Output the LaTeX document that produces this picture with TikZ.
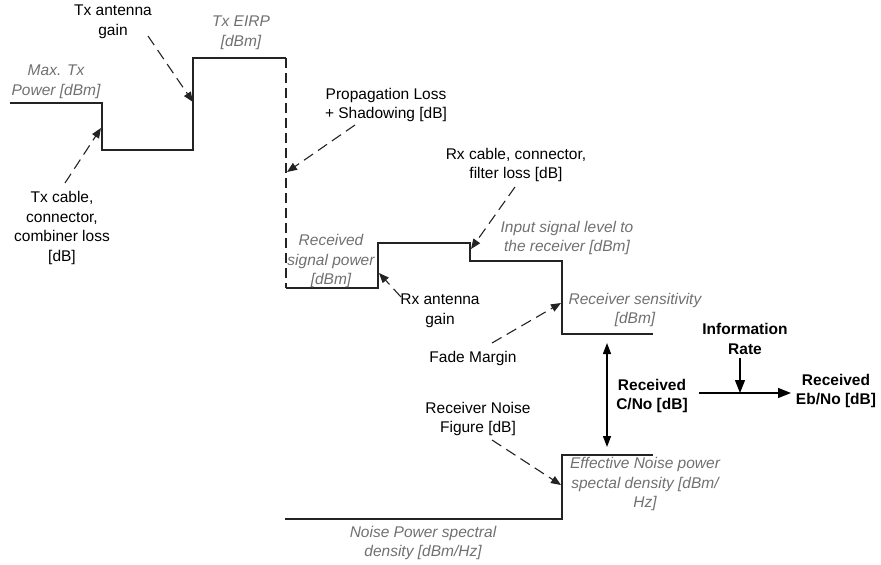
\documentclass[tikz,border=0pt]{standalone}
\usepackage{fontspec}
\setmainfont{Liberation Sans}
\usetikzlibrary{arrows.meta}
\definecolor{lvlgray}{RGB}{112,112,112}
\definecolor{ink}{RGB}{35,35,35}
\begin{document}
\begin{tikzpicture}[x=1pt,y=-1pt,
  every node/.style={inner sep=0pt, align=center, font=\fontsize{15.5}{19.5}\selectfont},
  level/.style={text=lvlgray, font=\fontsize{15.5}{19.5}\selectfont\itshape},
  factor/.style={text=black},
  result/.style={text=black, font=\fontsize{15.5}{19.5}\selectfont\bfseries},
  stepline/.style={draw=ink, line width=1.2pt},
  losspath/.style={draw=ink, line width=1.1pt, dash pattern=on 10pt off 5pt},
  dashlink/.style={draw=ink, line width=1.1pt, dash pattern=on 11pt off 6pt,
    -{Triangle[length=10pt,width=8pt]}},
  solidlink/.style={draw=black, line width=1.3pt},
  bigtip/.style={-{Triangle[length=13pt,width=10pt]}}
]
\useasboundingbox (0,0) rectangle (881,565);

% ---- signal level staircase ----
\coordinate (s0) at (10,103);
\coordinate (s1) at (102,103);
\coordinate (s2) at (102,150);
\coordinate (s3) at (193,150);
\coordinate (s4) at (193,58);
\coordinate (s5) at (286,58);
\coordinate (s6) at (286,288);
\coordinate (s7) at (378,288);
\coordinate (s8) at (378,243);
\coordinate (s9) at (470,243);
\coordinate (s10) at (470,261);
\coordinate (s11) at (562,261);
\coordinate (s12) at (562,334);
\coordinate (s13) at (653,334);
\draw[stepline] (s0) -- (s1) -- (s2) -- (s3) -- (s4) -- (s5);
\draw[losspath] (s5) -- (s6);
\draw[stepline] (s6) -- (s7) -- (s8) -- (s9) -- (s10) -- (s11) -- (s12) -- (s13);

% ---- noise level staircase ----
\coordinate (n0) at (285,519);
\coordinate (n1) at (562,519);
\coordinate (n2) at (562,455);
\coordinate (n3) at (653,455);
\draw[stepline] (n0) -- (n1) -- (n2) -- (n3);

% ---- level labels ----
\node[level] (maxtx) at (56,82) {Max. Tx\\Power [dBm]};
\node[level] (eirp) at (241,33) {Tx EIRP\\{}[dBm]};
\node[level] (rxpow) at (331,261) {Received\\signal power\\{}[dBm]};
\node[level] (input) at (567,238) {Input signal level to\\the receiver [dBm]};
\node[level] (sens) at (635,310) {Receiver sensitivity\\{}[dBm]};
\node[level] (effn) at (645,484) {Effective Noise power\\spectal density [dBm/\\Hz]};
\node[level] (npsd) at (423,543) {Noise Power spectral\\density [dBm/Hz]};

% ---- gain / loss labels ----
\node[factor] (txgain) at (113,22) {Tx antenna\\gain};
\node[factor] (txcable) at (62,228) {Tx cable,\\connector,\\combiner loss\\{}[dB]};
\node[factor] (prop) at (386,105) {Propagation Loss\\+ Shadowing [dB]};
\node[factor] (rxcable) at (516,165) {Rx cable, connector,\\filter loss [dB]};
\node[factor] (rxgain) at (440,311) {Rx antenna\\gain};
\node[factor] (fade) at (473,358) {Fade Margin};
\node[factor] (nf) at (478,419) {Receiver Noise\\Figure [dB]};

% ---- link budget results ----
\node[result] (info) at (745,339) {Information\\Rate};
\node[result] (cno) at (652,396) {Received\\C/No [dB]};
\node[result] (ebno) at (836,391) {Received\\Eb/No [dB]};

% ---- dashed pointers to the steps ----
\coordinate (txgainS) at (148,36);
\coordinate (txgainT) at (193,102);
\coordinate (txcableS) at (65,183);
\coordinate (txcableT) at (101,128);
\coordinate (propS) at (355,125);
\coordinate (propT) at (287,172);
\coordinate (rxcableS) at (515,187);
\coordinate (rxcableT) at (471,249);
\coordinate (rxgainS) at (401,297);
\coordinate (rxgainT) at (379,273);
\coordinate (fadeS) at (492,343);
\coordinate (fadeT) at (561,303);
\coordinate (nfS) at (492,440);
\coordinate (nfT) at (561,485);
\draw[dashlink] (txgainS) -- (txgainT);
\draw[dashlink] (txcableS) -- (txcableT);
\draw[dashlink] (propS) -- (propT);
\draw[dashlink] (rxcableS) -- (rxcableT);
\draw[dashlink] (rxgainS) -- (rxgainT);
\draw[dashlink] (fadeS) -- (fadeT);
\draw[dashlink] (nfS) -- (nfT);

% ---- C/No span and Eb/No conversion ----
\coordinate (cnTop) at (607,343);
\coordinate (cnBot) at (607,447);
\draw[solidlink, {Triangle[length=11pt,width=8pt]}-{Triangle[length=11pt,width=8pt]}] (cnTop) -- (cnBot);
\coordinate (ebS) at (699,393);
\coordinate (ebE) at (791,393);
\coordinate (irS) at (740,358);
\coordinate (irE) at (740,393);
\draw[solidlink, bigtip] (ebS) -- (ebE);
\draw[solidlink, bigtip] (irS) -- (irE);
\end{tikzpicture}
\end{document}
